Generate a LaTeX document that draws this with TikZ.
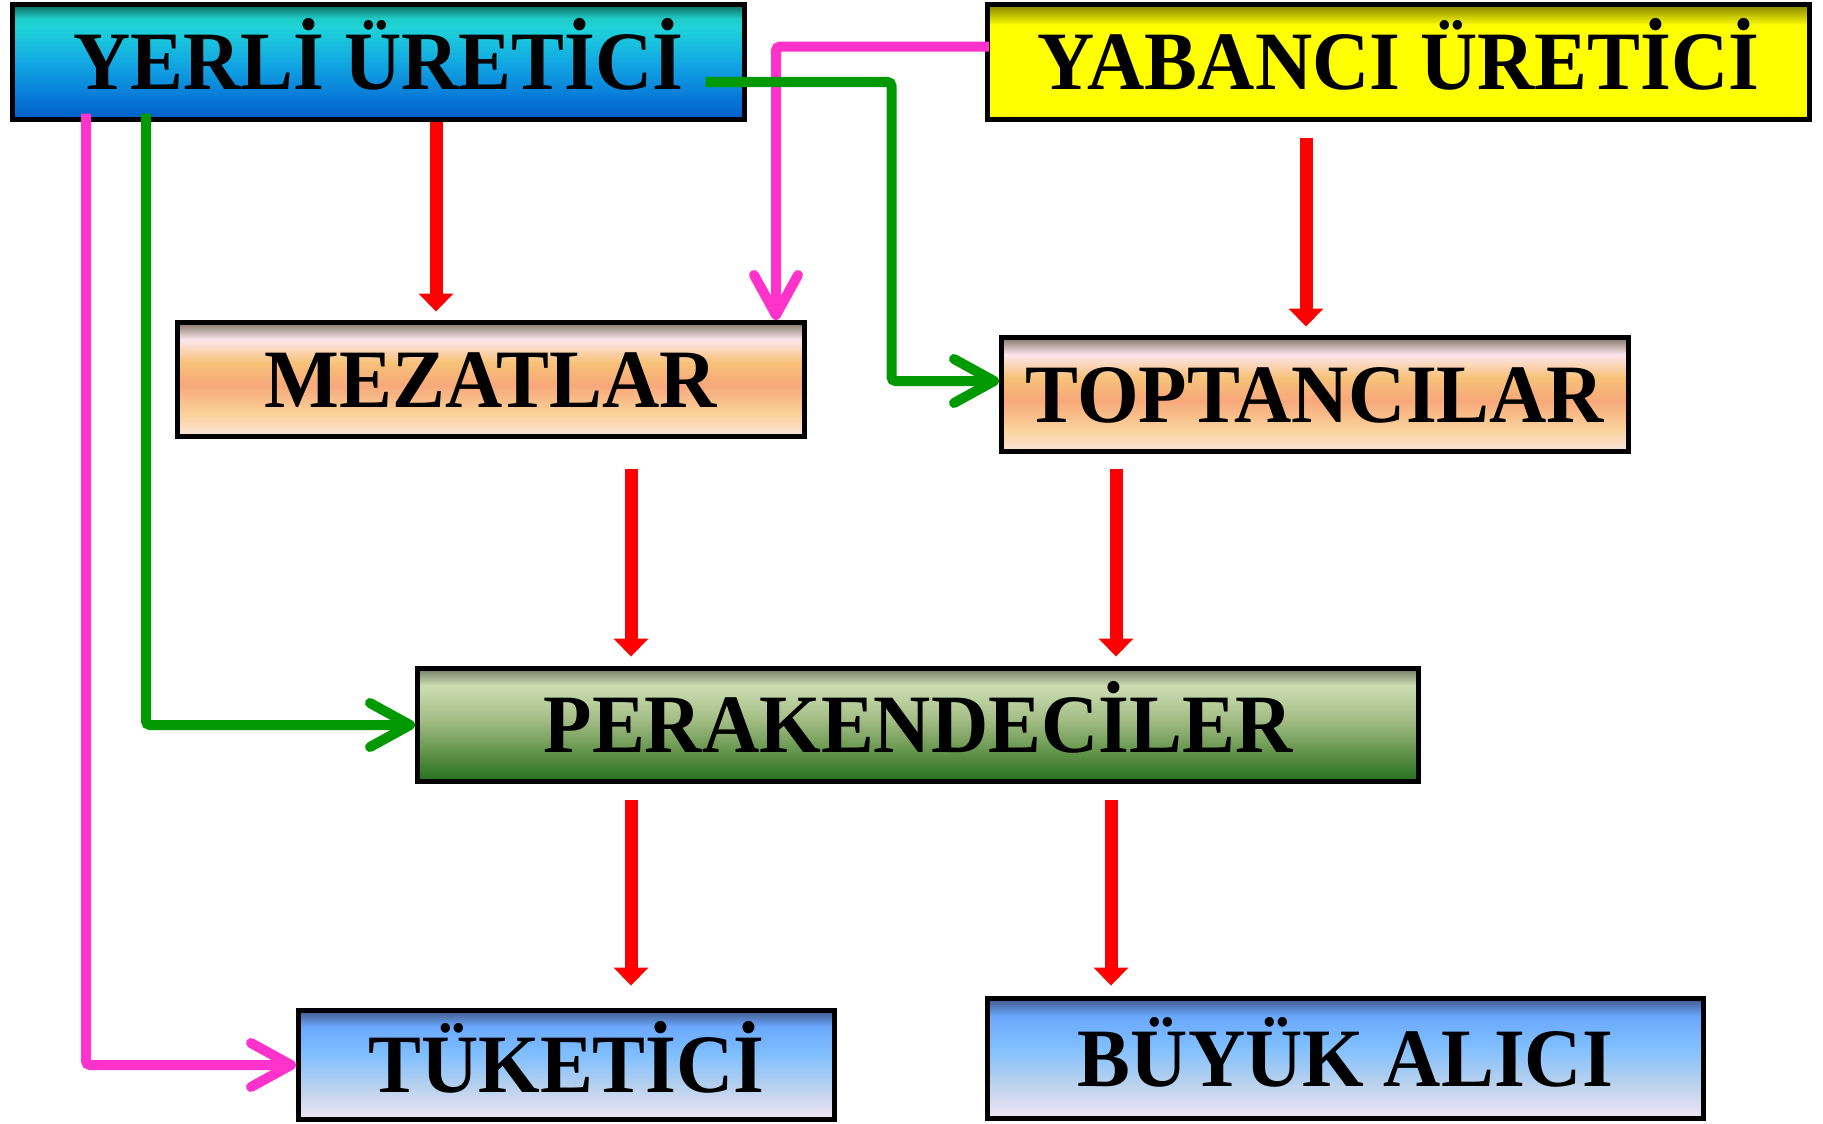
\documentclass[tikz,border=0pt]{standalone}
\usepackage{fontspec}
\setmainfont{Liberation Serif}[FakeStretch=0.955]
\usetikzlibrary{arrows.meta}
\definecolor{pembe}{RGB}{255,51,204}
\definecolor{yesil}{RGB}{0,153,0}
\pgfdeclareverticalshading{yerlirenk}{100bp}{rgb(0bp)=(0,0.37,0.78); rgb(25bp)=(0,0.37,0.78); rgb(35bp)=(0.03,0.48,0.85); rgb(50bp)=(0.07,0.66,0.89); rgb(65bp)=(0.12,0.83,0.85); rgb(69bp)=(0.12,0.8,0.78); rgb(75bp)=(0.05,0.4,0.35); rgb(100bp)=(0.05,0.4,0.35)}
\pgfdeclareverticalshading{yabancirenk}{100bp}{rgb(0bp)=(0.92,0.92,0); rgb(25bp)=(0.92,0.92,0); rgb(28bp)=(1,1,0); rgb(66bp)=(1,1,0); rgb(75bp)=(0.5,0.5,0); rgb(100bp)=(0.5,0.5,0)}
\pgfdeclareverticalshading{turuncurenk}{100bp}{rgb(0bp)=(0.98,0.9,0.86); rgb(25bp)=(0.98,0.9,0.86); rgb(35bp)=(0.98,0.82,0.6); rgb(47.5bp)=(0.97,0.66,0.48); rgb(57.5bp)=(0.97,0.76,0.47); rgb(67.5bp)=(0.99,0.9,0.93); rgb(75bp)=(0.5,0.45,0.4); rgb(100bp)=(0.5,0.45,0.4)}
\pgfdeclareverticalshading{yesilrenk}{100bp}{rgb(0bp)=(0.14,0.44,0.12); rgb(25bp)=(0.14,0.44,0.12); rgb(40bp)=(0.42,0.6,0.32); rgb(52.5bp)=(0.64,0.74,0.52); rgb(67.5bp)=(0.8,0.87,0.7); rgb(75bp)=(0.45,0.48,0.4); rgb(100bp)=(0.45,0.48,0.4)}
\pgfdeclareverticalshading{mavirenk}{100bp}{rgb(0bp)=(0.95,0.9,0.96); rgb(25bp)=(0.95,0.9,0.96); rgb(40bp)=(0.72,0.82,0.93); rgb(55bp)=(0.5,0.75,1); rgb(67.5bp)=(0.42,0.66,1); rgb(75bp)=(0.25,0.35,0.55); rgb(100bp)=(0.25,0.35,0.55)}
\tikzset{
	kutu/.style={draw=black, line width=5pt, shade, inner sep=0pt, text height=55pt, text depth=0pt, font=\fontsize{83}{90}\selectfont\bfseries},
	kirmizi/.style={draw=red, line width=13pt, -{Triangle[width=35pt,length=18pt,line width=0pt]}},
	pembeok/.style={draw=pembe, line width=10pt, rounded corners=4pt, -{Straight Barb[length=40pt,width=44pt,round]}},
	yesilok/.style={draw=yesil, line width=10pt, rounded corners=4pt, -{Straight Barb[length=40pt,width=44pt,round]}}
}

\begin{document}
\begin{tikzpicture}[x=1pt, y=-1pt]
		%%%%% START %%%%%
		\useasboundingbox (0,0) rectangle (1823,1124);
		
		\node[kutu, shading=yerlirenk, minimum width=732, minimum height=115] (yerli) at (378.5, 62) {YERLİ ÜRETİCİ};
		\node[kutu, shading=yabancirenk, minimum width=822, minimum height=115] (yabanci) at (1398.5, 62) {YABANCI ÜRETİCİ};
		\node[kutu, shading=turuncurenk, minimum width=627, minimum height=114] (mezat) at (491, 379.5) {MEZATLAR};
		\node[kutu, shading=turuncurenk, minimum width=627, minimum height=114] (toptan) at (1315, 394.5) {TOPTANCILAR};
		\node[kutu, shading=yesilrenk, minimum width=1001, minimum height=113] (perakende) at (918, 725) {PERAKENDECİLER};
		\node[kutu, shading=mavirenk, minimum width=536, minimum height=109] (tuketici) at (566.5, 1065) {TÜKETİCİ};
		\node[kutu, shading=mavirenk, minimum width=716, minimum height=120] (buyuk) at (1345.5, 1058.5) {BÜYÜK ALICI};
		
		\draw[kirmizi, shorten >=8.5pt] (436,0 |- yerli.south) -- (436,0 |- mezat.north);
		\draw[kirmizi, shorten <=15.5pt, shorten >=8.5pt] (1306,0 |- yabanci.south) -- (1306,0 |- toptan.north);
		\draw[kirmizi, shorten <=29.5pt, shorten >=9.5pt] (631,0 |- mezat.south) -- (631,0 |- perakende.north);
		\draw[kirmizi, shorten <=14.5pt, shorten >=9.5pt] (1116,0 |- toptan.south) -- (1116,0 |- perakende.north);
		\draw[kirmizi, shorten <=15.5pt, shorten >=22.5pt] (631,0 |- perakende.south) -- (631,0 |- tuketici.north);
		\draw[kirmizi, shorten <=15.5pt, shorten >=10.5pt] (1111,0 |- perakende.south) -- (1111,0 |- buyuk.north);
		
		\draw[pembeok, shorten <=-4pt] ([yshift=15.4pt]yabanci.west) -| (776,0 |- mezat.north);
		\draw[pembeok, shorten <=-8.5pt] (86,0 |- yerli.south) |- (tuketici.west);
		\draw[yesilok, shorten <=-41.5pt] ([yshift=-20pt]yerli.east) -- ++(144.5,0) |- ([yshift=13.5pt]toptan.west);
		\draw[yesilok, shorten <=-8.5pt] (146,0 |- yerli.south) |- (perakende.west);
		%%%%% END %%%%%
\end{tikzpicture}
\end{document}
